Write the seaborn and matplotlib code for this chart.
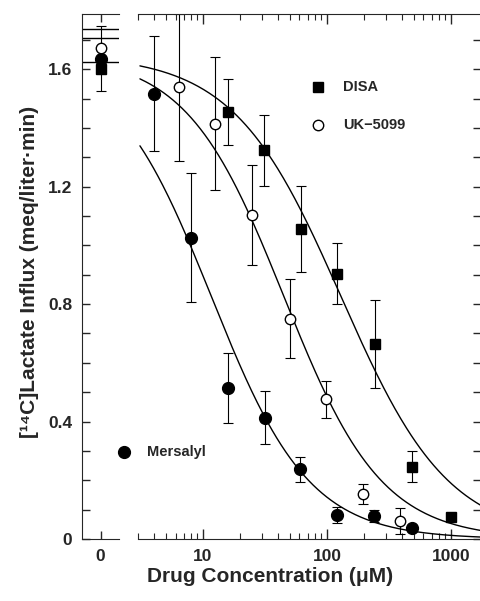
import numpy as np
import pandas as pd
import matplotlib
matplotlib.use("Agg")
import matplotlib.pyplot as plt
from matplotlib.ticker import FixedLocator, LogLocator, NullFormatter, FuncFormatter
import seaborn as sns

# drug concentration (uM) vs [14C]lactate influx (meq/liter.min)
disa_conc = [16, 31, 62, 121, 242, 482, 1000]
disa_flux = [1.455, 1.324, 1.056, 0.904, 0.663, 0.246, 0.074]
disa_err = [0.112, 0.12, 0.147, 0.105, 0.15, 0.053, 0.0]

uk_conc = [6.4, 12.6, 25, 50, 98, 196, 388]
uk_flux = [1.538, 1.415, 1.103, 0.751, 0.476, 0.153, 0.062]
uk_err = [0.25, 0.227, 0.17, 0.135, 0.063, 0.034, 0.044]

mers_conc = [4, 8, 16, 31.6, 60.5, 121, 240, 482]
mers_flux = [1.517, 1.026, 0.515, 0.413, 0.237, 0.082, 0.078, 0.036]
mers_err = [0.197, 0.22, 0.12, 0.09, 0.043, 0.028, 0.02, 0.0]

# no-drug controls (DISA, UK-5099, Mersalyl)
ctrl_flux = [1.60, 1.673, 1.636]
ctrl_err = [0.0, 0.0, 0.11]
ctrl_lines = [1.736, 1.708, 1.626]

# fitted inhibition curves: top / (1 + (c/IC50)^n)
fit_names = ["DISA", "UK-5099", "Mersalyl"]
fit_top = [1.65, 1.65, 1.65]
fit_ic50 = [130, 45, 11.7]
fit_hill = [1.0, 1.1, 1.1]

sns.set_style("ticks")
plt.rcParams['font.family'] = ['Liberation Sans', 'DejaVu Sans']
plt.rcParams['font.weight'] = 'bold'

W, H = 480, 601
fig = plt.figure(figsize=(4.8, 6.01), dpi=100)
bot = 1 - 539 / H
hgt = (539 - 13.5) / H
ax0 = fig.add_axes([82 / W, bot, (119 - 82) / W, hgt])
ax1 = fig.add_axes([138 / W, bot, (480.5 - 138) / W, hgt])

ymax = 1.79
yt = np.round(np.arange(0, 1.75, 0.1), 1)

def ylab(v, pos):
    if abs(v) < 1e-9:
        return "0"
    if abs(round(v / 0.4) * 0.4 - v) < 1e-6:
        return f"{v:.1f}"
    return ""

# ---- control panel (0 drug)
ax0.set_xlim(-1, 1)
ax0.set_ylim(0, ymax)
for yl in ctrl_lines:
    ax0.axhline(yl, color='black', lw=1.0)
ax0.errorbar([0], [ctrl_flux[2]], yerr=[ctrl_err[2]], fmt='none', ecolor='black',
             elinewidth=0.8, capsize=3.5, capthick=0.8)
ax0.plot([0], [ctrl_flux[1]], 'o', ms=7.5, mfc='white', mec='black', mew=1.0, zorder=5)
ax0.plot([0], [ctrl_flux[2]], 'o', ms=8.5, color='black', zorder=4)
ax0.plot([0], [ctrl_flux[0]], 's', ms=6.5, color='black', zorder=6)
ax0.yaxis.set_major_locator(FixedLocator(yt))
ax0.yaxis.set_major_formatter(FuncFormatter(ylab))
ax0.set_xticks([0])
ax0.set_xticklabels(["0"])
ax0.spines['right'].set_visible(False)
ax0.tick_params(direction='in', length=6, width=1, labelsize=12.5, pad=7,
                top=True, right=False)

# ---- main log panel
xs = np.logspace(np.log10(3.1), np.log10(1730), 300)
curves = []
for name, top, ic, n in zip(fit_names, fit_top, fit_ic50, fit_hill):
    curves.append(pd.DataFrame({"conc": xs, "flux": top / (1 + (xs / ic) ** n), "drug": name}))
curves = pd.concat(curves)
sns.lineplot(data=curves, x="conc", y="flux", units="drug", estimator=None,
             color='black', lw=1.0, ax=ax1)

eb = dict(fmt='none', ecolor='black', elinewidth=0.8, capsize=3.5, capthick=0.8)
ax1.errorbar(disa_conc, disa_flux, yerr=disa_err, **eb)
ax1.errorbar(uk_conc, uk_flux, yerr=uk_err, **eb)
ax1.errorbar(mers_conc, mers_flux, yerr=mers_err, **eb)
ax1.plot(disa_conc, disa_flux, 's', ms=6.5, color='black', zorder=5)
ax1.plot(uk_conc, uk_flux, 'o', ms=7.5, mfc='white', mec='black', mew=1.0, zorder=5)
ax1.plot(mers_conc, mers_flux, 'o', ms=8.5, color='black', zorder=5)

ax1.set_xscale('log')
ax1.set_xlim(2.99, 1730)
ax1.set_ylim(0, ymax)
ax1.xaxis.set_major_locator(FixedLocator([10, 100, 1000]))
ax1.xaxis.set_major_formatter(FuncFormatter(lambda v, p: f"{int(v)}"))
ax1.xaxis.set_minor_locator(LogLocator(base=10, subs=np.arange(2, 10)))
ax1.xaxis.set_minor_formatter(NullFormatter())
ax1.yaxis.set_major_locator(FixedLocator(yt))
ax1.set_xlabel("")
ax1.set_ylabel("")
ax1.spines['left'].set_visible(False)
ax1.tick_params(axis='x', which='both', direction='in', top=True, labelsize=12.5, pad=7)
ax1.tick_params(axis='x', which='major', length=7, width=1)
ax1.tick_params(axis='x', which='minor', length=4, width=0.8)
ax1.tick_params(axis='y', direction='in', left=False, right=True, labelleft=False,
                length=6, width=1)

# ---- key
ms_kw = dict(transform=fig.transFigure, clip_on=False, zorder=10)
fig.lines.append(plt.Line2D([318 / W], [1 - 87 / H], marker='s', ms=6.5, color='black', **ms_kw))
fig.lines.append(plt.Line2D([318 / W], [1 - 125 / H], marker='o', ms=7.5, mfc='white',
                            mec='black', mew=1.0, **ms_kw))
fig.lines.append(plt.Line2D([124 / W], [1 - 452 / H], marker='o', ms=8.5, color='black', **ms_kw))
fig.text(343 / W, 1 - 87 / H, "DISA", fontsize=10.5, fontweight='bold', va='center')
fig.text(343 / W, 1 - 125 / H, "UK\u22125099", fontsize=10.5, fontweight='bold', va='center')
fig.text(147 / W, 1 - 452 / H, "Mersalyl", fontsize=10.5, fontweight='bold', va='center')

fig.text(30 / W, 1 - 272 / H, "[\u00b9\u2074C]Lactate Influx (meq/liter\u00b7min)",
         rotation=90, ha='center', va='center', fontsize=15, fontweight='bold')
fig.text(270 / W, 1 - 577 / H, "Drug Concentration (\u03bcM)",
         ha='center', va='center', fontsize=15, fontweight='bold')

fig.savefig("out.png", dpi=100)
